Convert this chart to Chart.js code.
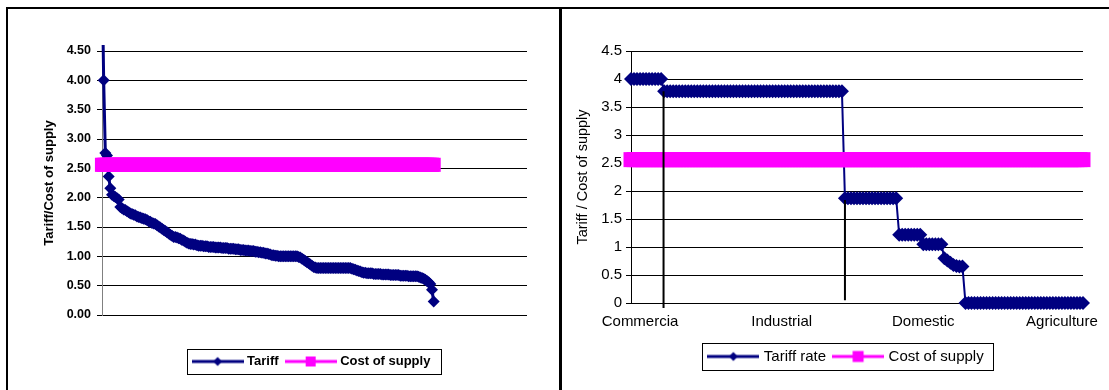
<html>
<head>
	<title>Tariff / Cost of supply</title>
	<meta name="viewport" content="width=device-width, initial-scale=1">
	<script src="https://cdn.jsdelivr.net/npm/chart.js"></script>
	<style>
		body { margin: 0; background: #fff; width: 1109px; height: 390px; overflow: hidden; position: relative; }
		.frame { position: absolute; left: 6px; top: 7px; width: 1200px; height: 500px; border: 2px solid #000; box-sizing: border-box; }
		.divider { position: absolute; left: 559px; top: 7px; width: 3px; height: 383px; background: #000; }
		canvas { position: absolute; top: 9px; }
		#leftChart { left: 8px; }
		#rightChart { left: 562px; }
	</style>
</head>
<body>
	<div class="frame"></div>
	<div class="divider"></div>
	<canvas id="leftChart" width="551" height="381"></canvas>
	<canvas id="rightChart" width="547" height="381"></canvas>
<script>
	// left chart: tariff / cost of supply, consumers sorted high to low
	const tariff = [
		6.00, 4.00, 2.76, 2.72, 2.36, 2.16, 2.05, 2.03, 2.01, 1.99,
		1.97, 1.84, 1.82, 1.80, 1.79, 1.77, 1.75, 1.73, 1.72, 1.71,
		1.70, 1.68, 1.67, 1.66, 1.65, 1.64, 1.63, 1.62, 1.60, 1.59,
		1.57, 1.56, 1.55, 1.53, 1.51, 1.49, 1.47, 1.45, 1.43, 1.41,
		1.39, 1.37, 1.35, 1.33, 1.33, 1.32, 1.31, 1.30, 1.28, 1.27,
		1.25, 1.23, 1.22, 1.21, 1.21, 1.20, 1.20, 1.19, 1.18, 1.18,
		1.18, 1.17, 1.17, 1.17, 1.16, 1.16, 1.16, 1.16, 1.15, 1.15,
		1.15, 1.15, 1.14, 1.14, 1.14, 1.14, 1.13, 1.13, 1.13, 1.13,
		1.12, 1.12, 1.12, 1.11, 1.11, 1.11, 1.10, 1.10, 1.10, 1.09,
		1.09, 1.09, 1.08, 1.08, 1.07, 1.07, 1.06, 1.06, 1.05, 1.05,
		1.04, 1.03, 1.02, 1.02, 1.01, 1.01, 1.00, 1.00, 1.00, 1.00,
		1.00, 1.00, 1.00, 1.00, 1.00, 1.00, 1.00, 1.00, 0.99, 0.98,
		0.96, 0.94, 0.92, 0.90, 0.88, 0.86, 0.84, 0.82, 0.81, 0.80,
		0.80, 0.80, 0.80, 0.80, 0.80, 0.80, 0.80, 0.80, 0.80, 0.80,
		0.80, 0.80, 0.80, 0.80, 0.80, 0.80, 0.80, 0.80, 0.80, 0.80,
		0.79, 0.78, 0.77, 0.76, 0.75, 0.74, 0.73, 0.72, 0.72, 0.71,
		0.71, 0.71, 0.71, 0.70, 0.70, 0.70, 0.70, 0.70, 0.69, 0.69,
		0.69, 0.69, 0.69, 0.68, 0.68, 0.68, 0.68, 0.68, 0.68, 0.67,
		0.67, 0.67, 0.67, 0.67, 0.66, 0.66, 0.66, 0.66, 0.66, 0.66,
		0.65, 0.64, 0.63, 0.62, 0.60, 0.58, 0.56, 0.53, 0.43, 0.23
	];
	const costOfSupply = 2.56;
	const leftCategoryCount = 256;

	// right chart: tariff rate by sector, as runs of equal values
	const rightRates  = [4.00, 3.78, 1.87, 1.22, 1.05, 0.80, 0.76, 0.72, 0.68, 0.66, 0.65, 0.00];
	const rightCounts = [11,   60,   18,   8,    7,    1,    1,    1,    1,    1,    2,    40];
	const rightCostOfSupply = 2.56;
	const sectorLabels = ['Commercia', 'Industrial', 'Domestic', 'Agriculture'];
	const sectorLabelAt = [3, 50, 97, 143];
	const dividers = [
		{ at: 10.8, top: 3.78, bottom: -0.09 },
		{ at: 71, top: 1.84, bottom: 0.05 }
	];

	const FONT = '"Liberation Sans", Arial, sans-serif';
	const NAVY = '#000080';
	const MAGENTA = '#ff00ff';

	const toPoints = values => values.map((y, x) => ({ x, y }));
	const tariffRate = rightRates.flatMap((r, i) => Array(rightCounts[i]).fill(r));

	// little "line + marker" picture for the legend
	function legendIcon(color, marker, size, lineWidth) {
		const c = document.createElement('canvas');
		c.width = 52;
		c.height = 14;
		const ctx = c.getContext('2d');
		ctx.strokeStyle = color;
		ctx.fillStyle = color;
		ctx.lineWidth = lineWidth;
		ctx.beginPath();
		ctx.moveTo(0, 7);
		ctx.lineTo(52, 7);
		ctx.stroke();
		ctx.beginPath();
		if (marker === 'diamond') {
			ctx.moveTo(26 - size, 7);
			ctx.lineTo(26, 7 - size);
			ctx.lineTo(26 + size, 7);
			ctx.lineTo(26, 7 + size);
			ctx.closePath();
			ctx.fill();
		} else {
			ctx.fillRect(26 - size, 7 - size, size * 2, size * 2);
		}
		return c;
	}

	// box round the legend, and an optional sideways nudge of it
	const legendFrame = {
		id: 'legendFrame',
		afterLayout(chart, args, opts) {
			if (opts.shift && chart.legend) {
				chart.legend.left += opts.shift;
				chart.legend.right += opts.shift;
			}
		},
		afterDraw(chart, args, opts) {
			const boxes = chart.legend && chart.legend.legendHitBoxes;
			if (!boxes || !boxes.length) return;
			const ctx = chart.ctx;
			const left = Math.min(...boxes.map(b => b.left)) - opts.left;
			const right = Math.max(...boxes.map(b => b.left + b.width)) + opts.right;
			const top = boxes[0].top - opts.pad;
			const bottom = boxes[0].top + boxes[0].height + opts.pad;
			ctx.save();
			ctx.strokeStyle = '#000';
			ctx.lineWidth = 1;
			ctx.strokeRect(Math.round(left) + 0.5, Math.round(top) + 0.5, Math.round(right - left), Math.round(bottom - top));
			ctx.restore();
		}
	};

	function legendOptions(icons, font) {
		return {
			position: 'bottom',
			fullSize: false,
			labels: {
				usePointStyle: true,
				pointStyleWidth: 46,
				boxHeight: font.size,
				padding: 9,
				color: '#000',
				font: font,
				generateLabels: chart => Chart.defaults.plugins.legend.labels.generateLabels(chart)
					.filter(item => item.datasetIndex < icons.length)
					.sort((a, b) => a.datasetIndex - b.datasetIndex)
					.map(item => Object.assign(item, { pointStyle: icons[item.datasetIndex] }))
			}
		};
	}

	const leftIcons = [legendIcon(NAVY, 'diamond', 4.5, 3), legendIcon(MAGENTA, 'square', 5, 3)];
	const rightIcons = [legendIcon(NAVY, 'diamond', 4.5, 3), legendIcon(MAGENTA, 'square', 5.5, 3)];

	const leftChart = new Chart(document.getElementById('leftChart'), {
		type: 'line',
		data: {
			datasets: [{
				label: 'Tariff',
				data: toPoints(tariff),
				borderColor: NAVY,
				backgroundColor: NAVY,
				borderWidth: 3,
				pointStyle: 'rectRot',
				pointRadius: 6,
				pointBorderWidth: 0,
				pointBackgroundColor: NAVY,
				order: 1,
				clip: { left: 10, top: 6, right: 10, bottom: 10 }
			},
			{
				label: 'Cost of supply',
				data: toPoints(tariff.map(() => costOfSupply)),
				borderColor: MAGENTA,
				backgroundColor: MAGENTA,
				borderWidth: 3,
				pointStyle: 'rect',
				pointRadius: 10,
				pointBorderWidth: 0,
				pointBackgroundColor: MAGENTA,
				order: 0,
				clip: false
			}]
		},
		options: {
			responsive: false,
			animation: false,
			events: [],
			layout: { padding: { left: 0, right: 32, top: 42, bottom: 12 } },
			scales: {
				x: {
					type: 'linear',
					min: 0,
					max: leftCategoryCount - 1,
					ticks: { display: false },
					grid: { display: false, drawTicks: false },
					border: { display: false },
					afterFit: s => { s.height = 31; }
				},
				y: {
					min: 0,
					max: 4.5,
					ticks: {
						stepSize: 0.5,
						padding: 6,
						color: '#000',
						font: { family: FONT, size: 12.5, weight: 'bold' },
						callback: v => v.toFixed(2)
					},
					grid: { color: '#000', tickColor: '#000', tickLength: 5, lineWidth: 1 },
					border: { color: '#808080', width: 1 },
					title: {
						display: true,
						text: 'Tariff/Cost of supply',
						color: '#000',
						font: { family: FONT, size: 13, weight: 'bold' },
						padding: { top: 34, bottom: 0 }
					},
					afterFit: s => { s.width = 94; }
				}
			},
			plugins: {
				legend: legendOptions(leftIcons, { family: FONT, size: 13, weight: 'bold' }),
				legendFrame: { left: 8, right: 10, pad: 6, shift: -2 },
				tooltip: { enabled: false }
			}
		},
		plugins: [legendFrame]
	});

	const dividerSets = dividers.map(d => ({
		label: '',
		data: [{ x: d.at, y: d.top }, { x: d.at, y: d.bottom }],
		borderColor: '#000',
		borderWidth: 2,
		pointRadius: 0,
		order: -1,
		clip: false
	}));

	const rightChart = new Chart(document.getElementById('rightChart'), {
		type: 'line',
		data: {
			datasets: [{
				label: 'Tariff rate',
				data: toPoints(tariffRate),
				borderColor: NAVY,
				backgroundColor: NAVY,
				borderWidth: 2,
				pointStyle: 'rectRot',
				pointRadius: 7,
				pointBorderWidth: 0,
				pointBackgroundColor: NAVY,
				order: 1,
				clip: false
			},
			{
				label: 'Cost of supply',
				data: toPoints(tariffRate.map(() => rightCostOfSupply)),
				borderColor: MAGENTA,
				backgroundColor: MAGENTA,
				borderWidth: 3,
				pointStyle: 'rect',
				pointRadius: 10.6,
				pointBorderWidth: 0,
				pointBackgroundColor: MAGENTA,
				order: 0,
				clip: false
			}].concat(dividerSets)
		},
		options: {
			responsive: false,
			animation: false,
			events: [],
			layout: { padding: { left: 0, right: 26, top: 42, bottom: 16 } },
			scales: {
				x: {
					type: 'linear',
					min: 0,
					max: tariffRate.length - 1,
					afterBuildTicks: s => { s.ticks = sectorLabelAt.map(value => ({ value })); },
					ticks: {
						autoSkip: false,
						maxRotation: 0,
						padding: 10,
						color: '#000',
						font: { family: FONT, size: 15 },
						callback: (value, index) => sectorLabels[index]
					},
					grid: { display: false, drawTicks: false },
					border: { display: false },
					afterFit: s => { s.height = 37; }
				},
				y: {
					min: 0,
					max: 4.5,
					ticks: {
						stepSize: 0.5,
						padding: 4,
						color: '#000',
						font: { family: FONT, size: 15 },
						callback: v => String(v)
					},
					grid: { color: '#000', tickColor: '#000', tickLength: 5, lineWidth: 1 },
					border: { color: '#000', width: 1 },
					title: {
						display: true,
						text: 'Tariff / Cost of supply',
						color: '#000',
						font: { family: FONT, size: 14.5 },
						padding: { top: 12.6, bottom: 0 }
					},
					afterFit: s => { s.width = 69; }
				}
			},
			plugins: {
				legend: legendOptions(rightIcons, { family: FONT, size: 15 }),
				legendFrame: { left: 8, right: 10, pad: 6, shift: -10 },
				tooltip: { enabled: false }
			}
		},
		plugins: [legendFrame]
	});
</script>
</body>
</html>
